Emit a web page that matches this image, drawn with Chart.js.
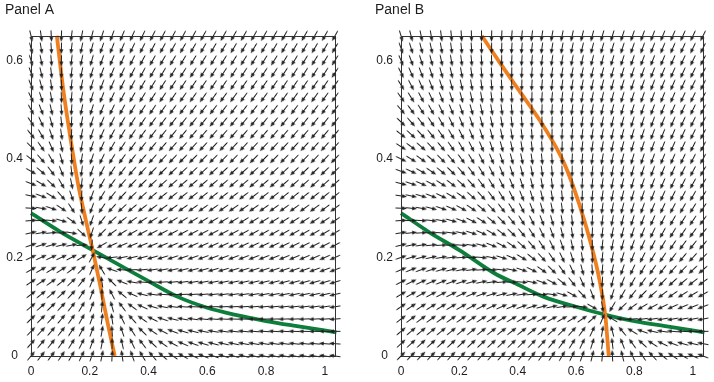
<!DOCTYPE html>
<html>
<head>
<meta charset="utf-8">
<script src="https://cdn.jsdelivr.net/npm/chart.js@4.4.0/dist/chart.umd.min.js"></script>
<style>
html, body { margin: 0; padding: 0; background: #fff; }
#wrap { position: relative; width: 714px; height: 382px; }
.panel { position: absolute; top: 0; width: 357px; height: 382px; }
</style>
</head>
<body>
<div id="wrap">
  <div class="panel" style="left:0"><canvas id="chartA"></canvas></div>
  <div class="panel" style="left:357px"><canvas id="chartB"></canvas></div>
</div>
<script>
// grid positions of the direction arrows
const gridX = [0, 0.0345, 0.069, 0.1035, 0.138, 0.1725, 0.207, 0.2415, 0.276, 0.3105, 0.345,
  0.3795, 0.414, 0.4485, 0.483, 0.5175, 0.552, 0.5865, 0.621, 0.6555, 0.69, 0.7245, 0.759,
  0.7935, 0.828, 0.8625, 0.897, 0.9315, 0.966, 1.0005, 1.035];
const gridY = [0, 0.025, 0.05, 0.075, 0.1, 0.125, 0.15, 0.175, 0.2, 0.225, 0.25, 0.275, 0.3,
  0.325, 0.35, 0.375, 0.4, 0.425, 0.45, 0.475, 0.5, 0.525, 0.55, 0.575, 0.6, 0.625, 0.65];

// tick labels
const xTicks = [0, 0.2, 0.4, 0.6, 0.8, 1];
const yTicks = [0, 0.2, 0.4, 0.6];

// Panel A curves
const orangeAX = [0.088, 0.11, 0.135, 0.16, 0.185, 0.21, 0.235, 0.26, 0.285];
const orangeAY = [0.65, 0.54, 0.44, 0.35, 0.28, 0.215, 0.145, 0.07, 0];
const greenAX = [0, 0.1, 0.21, 0.3, 0.4, 0.5, 0.6, 0.7, 0.8, 0.9, 1.04];
const greenAY = [0.29, 0.252, 0.215, 0.185, 0.152, 0.12, 0.098, 0.083, 0.071, 0.061, 0.048];

// Panel B curves
const orangeBX = [0.277, 0.345, 0.414, 0.49, 0.56, 0.61, 0.65, 0.68, 0.70, 0.712];
const orangeBY = [0.65, 0.59, 0.531, 0.465, 0.39, 0.31, 0.23, 0.155, 0.083, 0];
const greenBX = [0, 0.1, 0.2, 0.32, 0.4, 0.49, 0.6, 0.705, 0.8, 0.9, 1.04];
const greenBY = [0.29, 0.25, 0.215, 0.168, 0.145, 0.12, 0.1, 0.083, 0.071, 0.061, 0.048];

const ORANGE = '#f0801f';
const GREEN = '#0e7e3d';
const INK = '#1e1e1e';

// linear lookup on a curve, xs need not be sorted
function lookup(xs, ys, v) {
  const pts = xs.map((x, i) => [x, ys[i]]).sort((a, b) => a[0] - b[0]);
  if (v <= pts[0][0]) return pts[0][1];
  for (let i = 1; i < pts.length; i++) {
    if (v <= pts[i][0]) {
      const t = (v - pts[i - 1][0]) / (pts[i][0] - pts[i - 1][0]);
      return pts[i - 1][1] + t * (pts[i][1] - pts[i - 1][1]);
    }
  }
  return pts[pts.length - 1][1];
}

// small arrow used as point style
const arrowImg = document.createElement('canvas');
arrowImg.width = 12;
arrowImg.height = 5;
(function () {
  const c = arrowImg.getContext('2d');
  c.strokeStyle = INK;
  c.fillStyle = INK;
  c.lineWidth = 1;
  c.beginPath();
  c.moveTo(0.5, 2.5);
  c.lineTo(9, 2.5);
  c.stroke();
  c.beginPath();
  c.moveTo(12, 2.5);
  c.lineTo(7.2, 0.5);
  c.lineTo(7.2, 4.5);
  c.closePath();
  c.fill();
})();

// x relaxes toward the orange curve, y toward the green one
function fieldArrows(oX, oY, gX, gY, fx, fy) {
  const pts = [], rot = [];
  gridY.forEach(y => {
    gridX.forEach(x => {
      const dx = fx(lookup(oY, oX, y) - x);
      const dy = fy(lookup(gX, gY, x) - y);
      pts.push({ x: x, y: y });
      rot.push(Math.atan2(-dy * 494, dx * 294) * 180 / Math.PI);
    });
  });
  return { pts, rot };
}

const frame = {
  id: 'frame',
  afterDatasetsDraw(chart) {
    const a = chart.chartArea, c = chart.ctx;
    c.save();
    c.strokeStyle = '#333';
    c.lineWidth = 1;
    c.strokeRect(Math.round(a.left) + 0.5, Math.round(a.top) + 0.5,
      Math.round(a.right - a.left), Math.round(a.bottom - a.top));
    c.restore();
  }
};

function curve(xs, ys, color) {
  return {
    type: 'scatter',
    data: xs.map((x, i) => ({ x: x, y: ys[i] })).sort((a, b) => a.x - b.x),
    showLine: true,
    borderColor: color,
    borderWidth: 3.8,
    pointRadius: 0,
    cubicInterpolationMode: 'monotone',
    clip: 4
  };
}

function makeChart(id, title, field, oX, oY, gX, gY, padLeft, padRight) {
  new Chart(document.getElementById(id), {
    type: 'scatter',
    data: {
      datasets: [
        {
          data: field.pts,
          pointStyle: arrowImg,
          pointRotation: field.rot,
          pointRadius: 5,
          clip: 6
        },
        curve(oX, oY, ORANGE),
        curve(gX, gY, GREEN)
      ]
    },
    options: {
      responsive: false,
      animation: false,
      events: [],
      layout: { padding: { left: padLeft, right: padRight, top: 0, bottom: 0 } },
      plugins: {
        legend: { display: false },
        tooltip: { enabled: false },
        title: {
          display: true,
          text: title,
          align: 'start',
          color: INK,
          font: { family: 'Liberation Sans, Arial, sans-serif', size: 14, weight: 'normal' },
          padding: { top: 2, bottom: 17 }
        }
      },
      scales: {
        x: {
          type: 'linear', min: 0, max: 1.035,
          grid: { display: false, drawTicks: false },
          border: { display: false },
          afterBuildTicks: s => { s.ticks = xTicks.map(v => ({ value: v })); },
          afterFit: s => { s.height = 26; },
          ticks: {
            color: INK, padding: 8, maxRotation: 0,
            font: { family: 'Liberation Sans, Arial, sans-serif', size: 12 },
            callback: v => String(v)
          }
        },
        y: {
          type: 'linear', min: 0, max: 0.65,
          grid: { display: false, drawTicks: false },
          border: { display: false },
          afterBuildTicks: s => { s.ticks = yTicks.map(v => ({ value: v })); },
          afterFit: s => { s.width = 26; },
          ticks: {
            color: INK, padding: 8, crossAlign: 'center',
            font: { family: 'Liberation Sans, Arial, sans-serif', size: 12 },
            callback: v => String(v)
          }
        }
      }
    },
    plugins: [frame]
  });
}

const fieldA = fieldArrows(orangeAX, orangeAY, greenAX, greenAY,
  d => Math.tanh(3 * d), d => 1.75 * d);
const fieldB = fieldArrows(orangeBX, orangeBY, greenBX, greenBY,
  d => d, d => 1.5 * d);

['chartA', 'chartB'].forEach(id => {
  const cv = document.getElementById(id);
  cv.width = 357;
  cv.height = 382;
});

makeChart('chartA', 'Panel A', fieldA, orangeAX, orangeAY, greenAX, greenAY, 5, 22);
makeChart('chartB', 'Panel B', fieldB, orangeBX, orangeBY, greenBX, greenBY, 18, 11);
</script>
</body>
</html>
